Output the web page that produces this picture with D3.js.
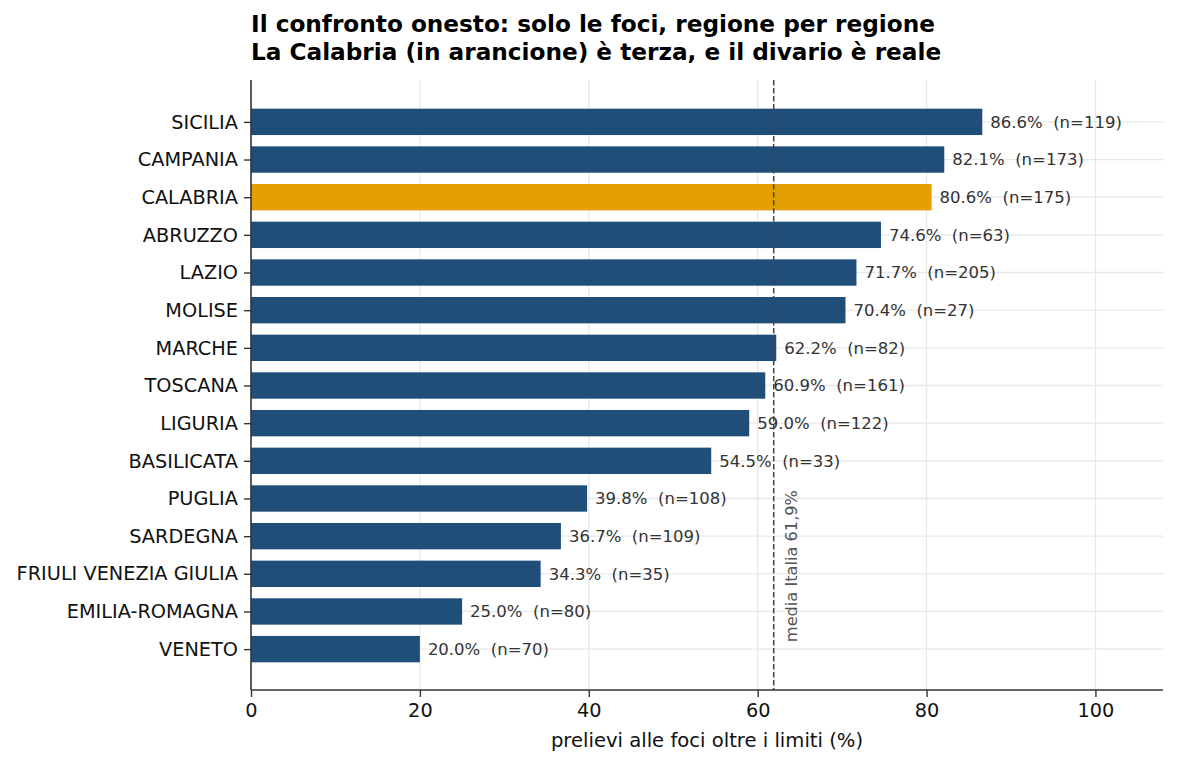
<!DOCTYPE html>
<html>
<head>
<meta charset="utf-8">
<script src="https://cdn.jsdelivr.net/npm/d3@7"></script>
<style>
  body { margin: 0; background: #fff; }
  text { font-family: "DejaVu Sans", sans-serif; }
</style>
</head>
<body>
<div id="vis"></div>
<script>
var width = 1177,
  height = 764;

// Data
var regions = [ 'SICILIA', 'CAMPANIA', 'CALABRIA', 'ABRUZZO', 'LAZIO', 'MOLISE', 'MARCHE', 'TOSCANA',
  'LIGURIA', 'BASILICATA', 'PUGLIA', 'SARDEGNA', 'FRIULI VENEZIA GIULIA', 'EMILIA-ROMAGNA', 'VENETO' ];
var shares = [ 86.6, 82.1, 80.6, 74.6, 71.7, 70.4, 62.2, 60.9, 59.0, 54.5, 39.8, 36.7, 34.3, 25.0, 20.0 ];
var counts = [ 119, 173, 175, 63, 205, 27, 82, 161, 122, 33, 108, 109, 35, 80, 70 ];
var highlight = 'CALABRIA';
var italyMean = 61.9;
var xTicks = [ 0, 20, 40, 60, 80, 100 ];

var margin = { top: 81, right: 14, bottom: 74, left: 251 };
var plotW = width - margin.left - margin.right,
  plotH = height - margin.top - margin.bottom;

var rows = regions.map( ( r, i ) => ( { region: r, share: shares[ i ], n: counts[ i ], i: i } ) );

/* Scales */

var x = d3.scaleLinear()
  .domain( [ 0, 108 ] )
  .range( [ 0, plotW ] );

// bars at integer positions, 0.7 tall, 5% margins
var pad = ( regions.length - 1 + 0.7 ) * 0.05 + 0.35;
var y = d3.scaleLinear()
  .domain( [ -pad, regions.length - 1 + pad ] )
  .range( [ 0, plotH ] );
var barH = y( 0.7 ) - y( 0 );

/* Drawing */

var svg = d3.select( '#vis' ).append( 'svg' )
  .attr( 'width', width )
  .attr( 'height', height );

var g = svg.append( 'g' )
  .attr( 'transform', 'translate(' + margin.left + ',' + margin.top + ')' );

// grid
g.append( 'g' ).selectAll( 'line' )
  .data( xTicks.filter( d => d > 0 ) )
  .enter().append( 'line' )
    .attr( 'x1', d => x( d ) ).attr( 'x2', d => x( d ) )
    .attr( 'y1', -1 ).attr( 'y2', plotH )
    .attr( 'stroke', '#e8e8e8' ).attr( 'stroke-width', 1.3 );

g.append( 'g' ).selectAll( 'line' )
  .data( rows )
  .enter().append( 'line' )
    .attr( 'x1', 0 ).attr( 'x2', plotW )
    .attr( 'y1', d => y( d.i ) ).attr( 'y2', d => y( d.i ) )
    .attr( 'stroke', '#e8e8e8' ).attr( 'stroke-width', 1.3 );

// bars
g.selectAll( 'rect.bar' )
  .data( rows )
  .enter().append( 'rect' )
    .attr( 'class', 'bar' )
    .attr( 'x', x( 0 ) )
    .attr( 'y', d => y( d.i ) - barH / 2 )
    .attr( 'width', d => x( d.share ) - x( 0 ) )
    .attr( 'height', barH )
    .attr( 'fill', d => d.region === highlight ? '#e69f00' : '#1f4e79' );

// value labels
g.selectAll( 'text.val' )
  .data( rows )
  .enter().append( 'text' )
    .attr( 'class', 'val' )
    .attr( 'x', d => x( d.share ) + 8 )
    .attr( 'y', d => y( d.i ) )
    .attr( 'dy', '0.36em' )
    .attr( 'fill', '#333' )
    .style( 'font-size', '16.5px' )
    .style( 'white-space', 'pre' )
    .text( d => d.share.toFixed( 1 ) + '%  (n=' + d.n + ')' );

// mean line
g.append( 'line' )
  .attr( 'x1', x( italyMean ) ).attr( 'x2', x( italyMean ) )
  .attr( 'y1', -1 ).attr( 'y2', plotH )
  .attr( 'stroke', '#444' )
  .attr( 'stroke-width', 1.5 )
  .attr( 'stroke-dasharray', '5.5,2.5' );

g.append( 'text' )
  .attr( 'transform', 'translate(' + ( x( italyMean ) + 23 ) + ',' + ( y( regions.length - 1 ) - 7 ) + ') rotate(-90)' )
  .attr( 'fill', '#555' )
  .style( 'font-size', '16.2px' )
  .text( 'media Italia 61,9%' );

// axes
var xAxis = g.append( 'g' )
  .attr( 'transform', 'translate(0,' + plotH + ')' )
  .call( d3.axisBottom( x ).tickValues( xTicks ).tickSize( 7 ).tickPadding( 6 ) );

var yAxis = g.append( 'g' )
  .call( d3.axisLeft( y ).tickValues( rows.map( d => d.i ) ).tickFormat( i => regions[ i ] ).tickSize( 7 ).tickPadding( 6 ) );

[ xAxis, yAxis ].forEach( a => {
  a.select( '.domain' ).remove();
  a.selectAll( '.tick line' ).attr( 'stroke', '#333' ).attr( 'stroke-width', 1.4 );
  a.selectAll( '.tick text' ).attr( 'fill', '#111' ).style( 'font-size', '19.3px' ).style( 'font-family', '"DejaVu Sans", sans-serif' );
} );

g.append( 'line' )
  .attr( 'x1', 0 ).attr( 'x2', plotW ).attr( 'y1', plotH ).attr( 'y2', plotH )
  .attr( 'stroke', '#333' ).attr( 'stroke-width', 1.6 );
g.append( 'line' )
  .attr( 'x1', 0 ).attr( 'x2', 0 ).attr( 'y1', -1 ).attr( 'y2', plotH )
  .attr( 'stroke', '#333' ).attr( 'stroke-width', 1.6 );

// axis title
g.append( 'text' )
  .attr( 'x', plotW / 2 )
  .attr( 'y', plotH + 57 )
  .attr( 'text-anchor', 'middle' )
  .attr( 'fill', '#111' )
  .style( 'font-size', '19.6px' )
  .text( 'prelievi alle foci oltre i limiti (%)' );

// title
var title = svg.append( 'text' )
  .attr( 'x', margin.left )
  .attr( 'y', 32 )
  .attr( 'fill', '#000' )
  .style( 'font-size', '23.2px' )
  .style( 'font-weight', 'bold' );
title.append( 'tspan' ).attr( 'x', margin.left ).text( 'Il confronto onesto: solo le foci, regione per regione' );
title.append( 'tspan' ).attr( 'x', margin.left ).attr( 'dy', 27.5 ).text( 'La Calabria (in arancione) è terza, e il divario è reale' );
</script>
</body>
</html>
